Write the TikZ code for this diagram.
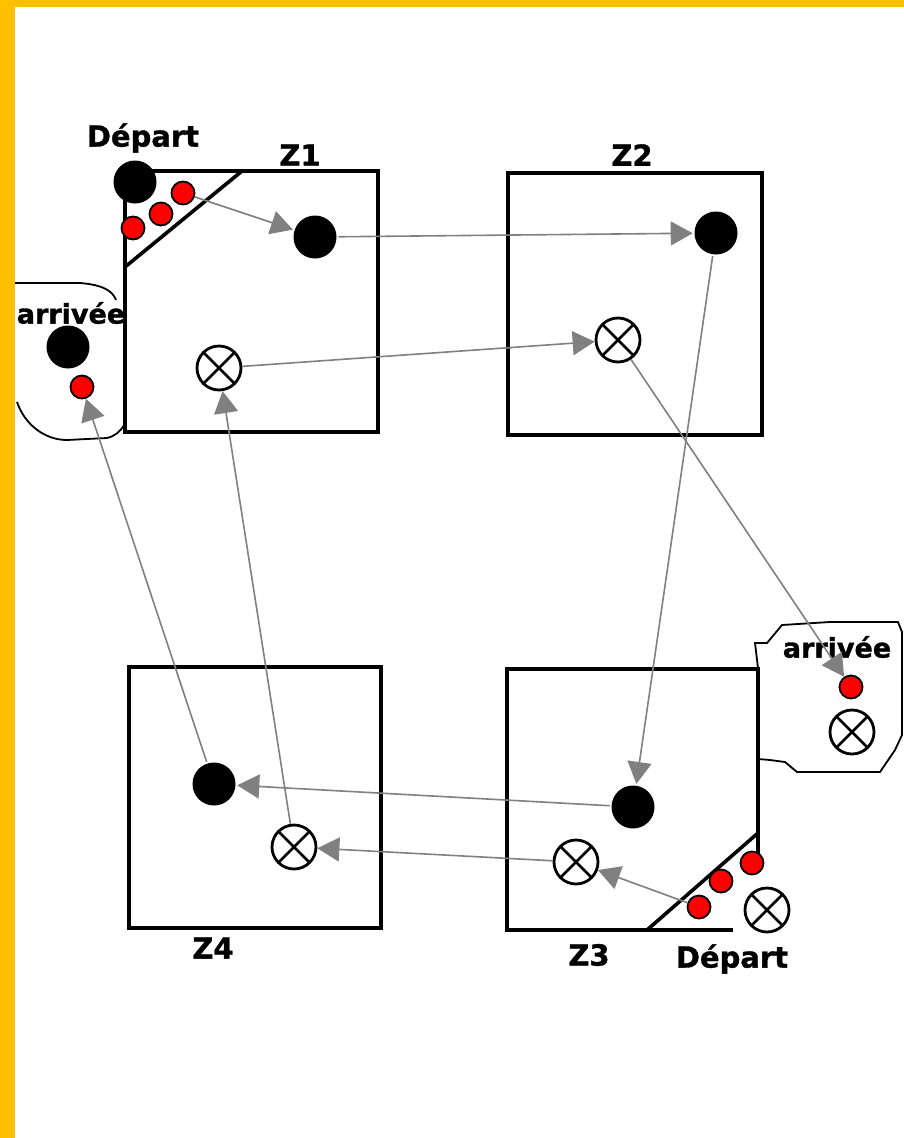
\documentclass[tikz,border=0pt]{standalone}
\usepackage{fontspec}
\setmainfont{DejaVu Sans}
\newfontfamily\gras{DejaVu Sans Bold}[FakeBold=1.2]
\usetikzlibrary{arrows.meta}
\definecolor{bandeau}{RGB}{255,192,0}
\definecolor{fleche}{RGB}{128,128,128}

\begin{document}
\begin{tikzpicture}[x=1pt,y=-1pt,line width=3.6pt,
    noir/.style={circle,fill=black,minimum size=43pt,inner sep=0pt},
    rouge/.style={circle,draw=black,line width=1.8pt,fill=red,minimum size=23pt,inner sep=0pt},
    croix/.style={circle,draw=black,line width=2.8pt,fill=white,minimum size=44pt,inner sep=0pt,
      path picture={\draw[line width=2.6pt] (path picture bounding box.south west)--(path picture bounding box.north east)
        (path picture bounding box.north west)--(path picture bounding box.south east);}},
    fl/.style={draw=fleche,line width=1.6pt,-{Triangle[length=22pt,width=24pt]},fleche},
    lbl/.style={font=\fontsize{29}{31}\selectfont\gras,inner sep=0pt},
    lblarr/.style={font=\fontsize{27}{29}\selectfont\gras,inner sep=0pt}]
    \useasboundingbox (0,0) rectangle (904,1138);
    \fill[white] (0,0) rectangle (904,1138);
    \fill[bandeau] (0,0) rectangle (15,1138);
    \fill[bandeau] (0,0) rectangle (904,7);

    % zones
    \draw (125,171) rectangle (378,432);
    \draw (242,171)--(125,267);
    \draw (508,173) rectangle (762,435);
    \draw (129,667) rectangle (381,928);
    \draw (758,865)--(758,669)--(507,669)--(507,930)--(733,930);
    \draw (647,930)--(758,833);

    % arrivees
    \draw[line width=1.8pt] (15,283)--(80,283) .. controls (105,285) and (113,292) .. (116,300);
    \draw[line width=1.8pt] (17,402) .. controls (25,425) and (45,440) .. (67,440)--(107,438)
        .. controls (115,436) and (120,432) .. (124,425);
    \draw[line width=1.8pt] (758,668)--(755,643)--(767,643)--(782,625)--(830,622)--(898,622)--(902,632)
        --(902,735)--(895,750)--(880,772)--(797,772)--(785,762)--(770,760)--(758,759);

    % pions
    \node[noir] (dep1) at (135,182) {};
    \node[rouge] (z1r1) at (133,228) {};
    \node[rouge] (z1r2) at (161,214) {};
    \node[rouge] (z1r3) at (183,193) {};
    \node[noir] (z1b) at (315,237) {};
    \node[croix] (z1x) at (219,368) {};
    \node[noir] (z2b) at (716,233) {};
    \node[croix] (z2x) at (618,340) {};
    \node[noir] (z3b) at (633,807) {};
    \node[croix] (z3x) at (576,862) {};
    \node[rouge] (z3r1) at (699,907) {};
    \node[rouge] (z3r2) at (721,881) {};
    \node[rouge] (z3r3) at (752,863) {};
    \node[croix] (dep3) at (767,910) {};
    \node[noir] (z4b) at (214,784) {};
    \node[croix] (z4x) at (294,847) {};
    \node[noir] (arr1b) at (68,347) {};
    \node[rouge] (arr1r) at (82,387) {};
    \node[rouge] (arr3r) at (851,687) {};
    \node[croix] (arr3x) at (852,732) {};

    % textes
    \node[lbl] (t1) at (143,138) {Départ};
    \node[lbl] (tz1) at (300,155) {Z1};
    \node[lbl] (tz2) at (632,155) {Z2};
    \node[lblarr] (ta1) at (71,313) {arrivée};
    \node[lblarr] (ta3) at (837,647) {arrivée};
    \node[lbl] (tz3) at (589,955) {Z3};
    \node[lbl] (t3) at (732,959) {Départ};
    \node[lbl] (tz4) at (213,948) {Z4};

    % trajets
    \draw[fl] (z1r3)--(z1b);
    \draw[fl] (z1b)--(z2b);
    \draw[fl] (z1x)--(z2x);
    \draw[fl] (z2b)--(z3b);
    \draw[fl] (z2x)--(arr3r);
    \draw[fl] (z3r1)--(z3x);
    \draw[fl] (z3b)--(z4b);
    \draw[fl] (z3x)--(z4x);
    \draw[fl] (z4b)--(arr1r);
    \draw[fl] (z4x)--(z1x);
\end{tikzpicture}
\end{document}
